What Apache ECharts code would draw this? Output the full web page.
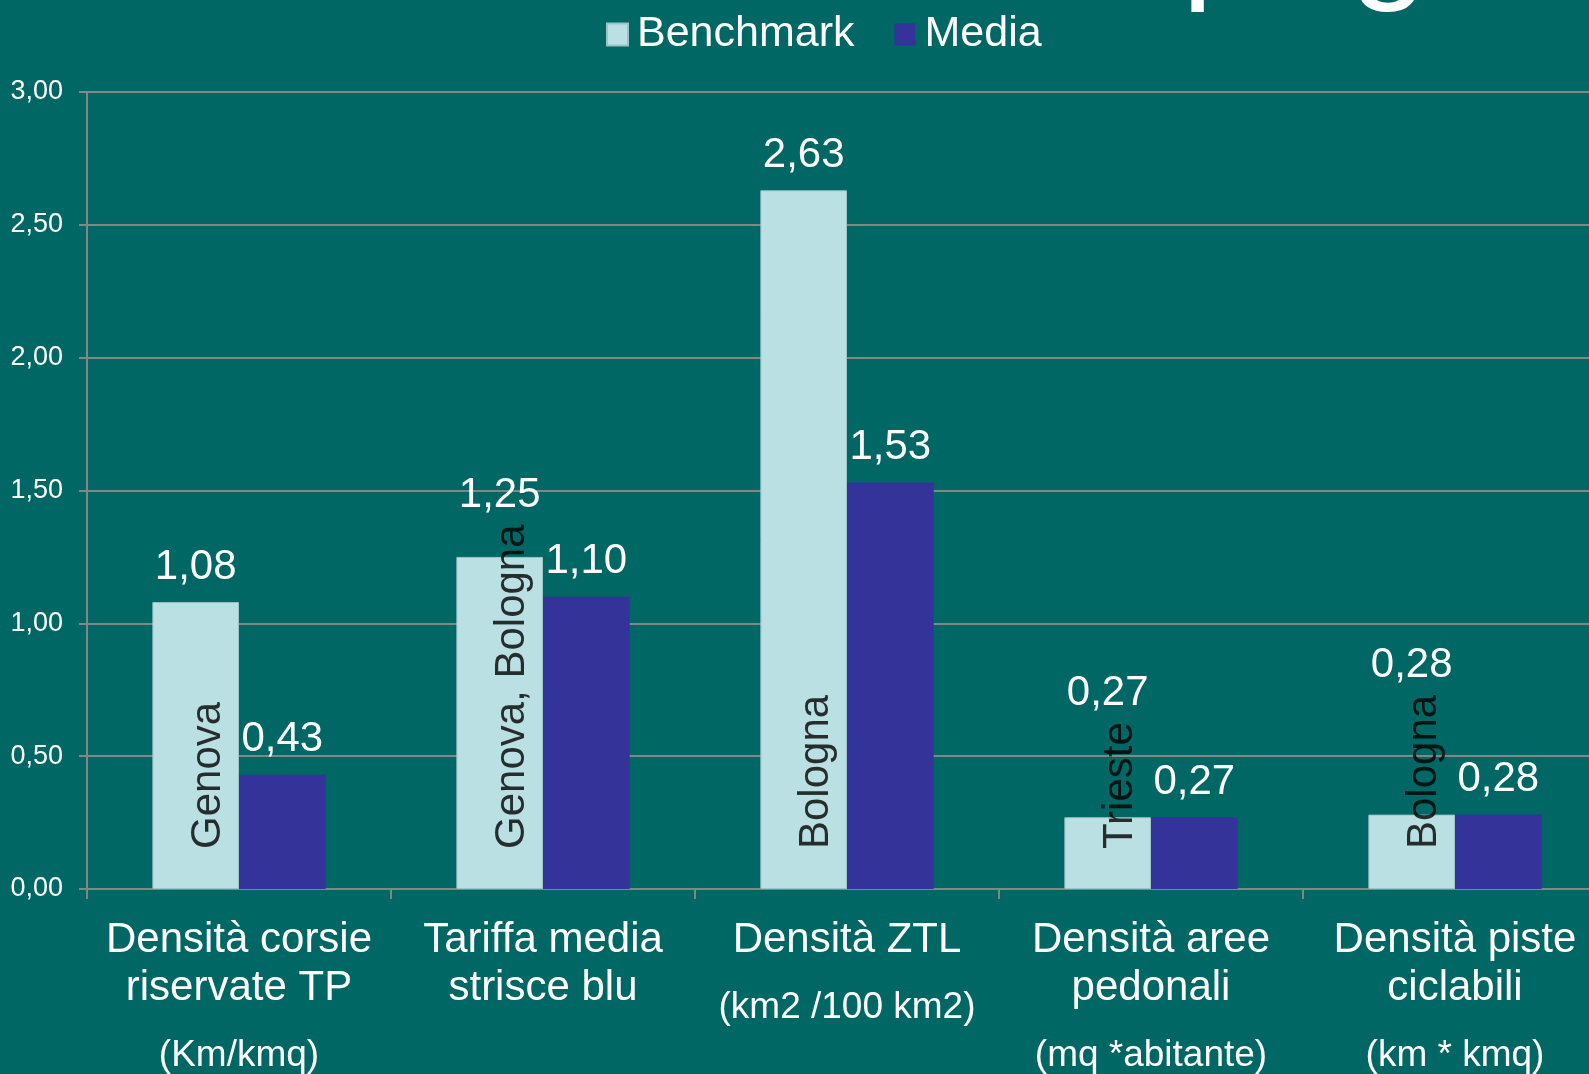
<!DOCTYPE html>
<html>
<head>
<meta charset="utf-8">
<script src="https://cdn.jsdelivr.net/npm/echarts@6/dist/echarts.min.js"></script>
<style>
  html, body { margin: 0; padding: 0; background: #006765; }
  #chart { width: 1589px; height: 1074px; }
</style>
</head>
<body>
<div id="chart"></div>
<script>
// ---- data ----
const categoryMain = ['Densità corsie\nriservate TP', 'Tariffa media\nstrisce blu', 'Densità ZTL', 'Densità aree\npedonali', 'Densità piste\nciclabili'];
const categoryUnit = ['(Km/kmq)', '', '(km2 /100 km2)', '(mq *abitante)', '(km * kmq)'];
const seriesNames = ['Benchmark', 'Media'];
const benchmark = [1.08, 1.25, 2.63, 0.27, 0.28];
const media = [0.43, 1.10, 1.53, 0.27, 0.28];
const benchmarkCity = ['Genova', 'Genova, Bologna', 'Bologna', 'Trieste', 'Bologna'];
const yMin = 0, yMax = 3, yStep = 0.5;
const titleFragments = ['p', 'g'];

// ---- style ----
const FONT = 'Liberation Sans';
const BG = '#006765';
const GRID_COLOR = '#858585';
const BENCH_COLOR = '#BBE0E3';
const MEDIA_COLOR = '#333399';
const CITY_FONT_SIZE = 42;
const CITY_START = 40;      // px above axis where city text starts
const VALUE_DIST = 14;

const fmt = v => v.toFixed(2).replace('.', ',');

const measureCtx = document.createElement('canvas').getContext('2d');
measureCtx.font = CITY_FONT_SIZE + 'px "' + FONT + '"';
const cityLen = benchmarkCity.map(c => measureCtx.measureText(c).width);

const chart = echarts.init(document.getElementById('chart'), null, { renderer: 'canvas' });

const option = {
  backgroundColor: BG,
  animation: false,
  textStyle: { fontFamily: FONT },
  graphic: [
    { type: 'text', x: 1182, y: 14, style: { text: titleFragments[0], font: '140px "' + FONT + '"', fill: '#fff', verticalAlign: 'bottom' } },
    { type: 'text', x: 1350, y: 14, style: { text: titleFragments[1], font: '140px "' + FONT + '"', fill: '#fff', verticalAlign: 'bottom' } }
  ],
  legend: {
    data: seriesNames,
    left: 601,
    top: 8,
    icon: 'rect',
    itemWidth: 21,
    itemHeight: 22,
    itemGap: 40,
    textStyle: { color: '#fff', fontSize: 43, padding: [0, 0, 0, 4] }
  },
  grid: { left: 87, width: 1520, top: 92, bottom: 185, containLabel: false, outerBoundsMode: 'none' },
  xAxis: {
    type: 'category',
    data: categoryMain.map((m, i) => i),
    axisLine: { show: true, lineStyle: { color: GRID_COLOR, width: 2 } },
    axisTick: { show: true, length: 10, lineStyle: { color: GRID_COLOR, width: 2 } },
    axisLabel: {
      interval: 0,
      margin: 27,
      color: '#fff',
      fontSize: 42,
      lineHeight: 48,
      formatter: (v, i) => categoryUnit[i] ? categoryMain[i] + '\n{u|' + categoryUnit[i] + '}' : categoryMain[i],
      rich: { u: { fontSize: 37, lineHeight: 88, color: '#fff' } }
    }
  },
  yAxis: {
    type: 'value',
    min: yMin, max: yMax, interval: yStep,
    axisLine: { show: true, lineStyle: { color: GRID_COLOR, width: 2 } },
    axisTick: { show: true, length: 8, lineStyle: { color: GRID_COLOR, width: 2 } },
    splitLine: { show: true, lineStyle: { color: GRID_COLOR, width: 2 } },
    axisLabel: { color: '#fff', fontSize: 27, margin: 24, formatter: v => fmt(v) }
  },
  series: [
    {
      name: seriesNames[0],
      type: 'bar',
      data: benchmark,
      barGap: '0%',
      barCategoryGap: '43%',
      itemStyle: { color: BENCH_COLOR, borderColor: '#9cc4c8', borderWidth: 1 },
      label: { show: true, position: 'top', distance: VALUE_DIST, color: '#fff', fontSize: 42, formatter: p => fmt(p.value) },
      labelLayout: function (p) {
        const i = p.dataIndex;
        const bottom = p.rect.y + p.rect.height;
        const cityTop = bottom - CITY_START - cityLen[i];
        const y = Math.min(p.rect.y - VALUE_DIST, cityTop - 8);
        return { x: p.rect.x + p.rect.width / 2, y: y, align: 'center', verticalAlign: 'bottom' };
      }
    },
    {
      name: seriesNames[1],
      type: 'bar',
      data: media,
      itemStyle: { color: MEDIA_COLOR },
      label: { show: true, position: 'top', distance: VALUE_DIST, color: '#fff', fontSize: 42, formatter: p => fmt(p.value) }
    },
    {
      name: 'city',
      type: 'scatter',
      data: benchmarkCity.map((c, i) => [i, 0]),
      symbolSize: 1,
      itemStyle: { color: 'rgba(0,0,0,0)' },
      silent: true,
      z: 5,
      label: {
        show: true,
        position: 'inside',
        rotate: 90,
        align: 'left',
        verticalAlign: 'bottom',
        offset: [CITY_START, -10],
        fontSize: CITY_FONT_SIZE,
        color: '#000',
        formatter: p => benchmarkCity[p.dataIndex]
      }
    }
  ]
};
chart.setOption(option);
</script>
</body>
</html>
